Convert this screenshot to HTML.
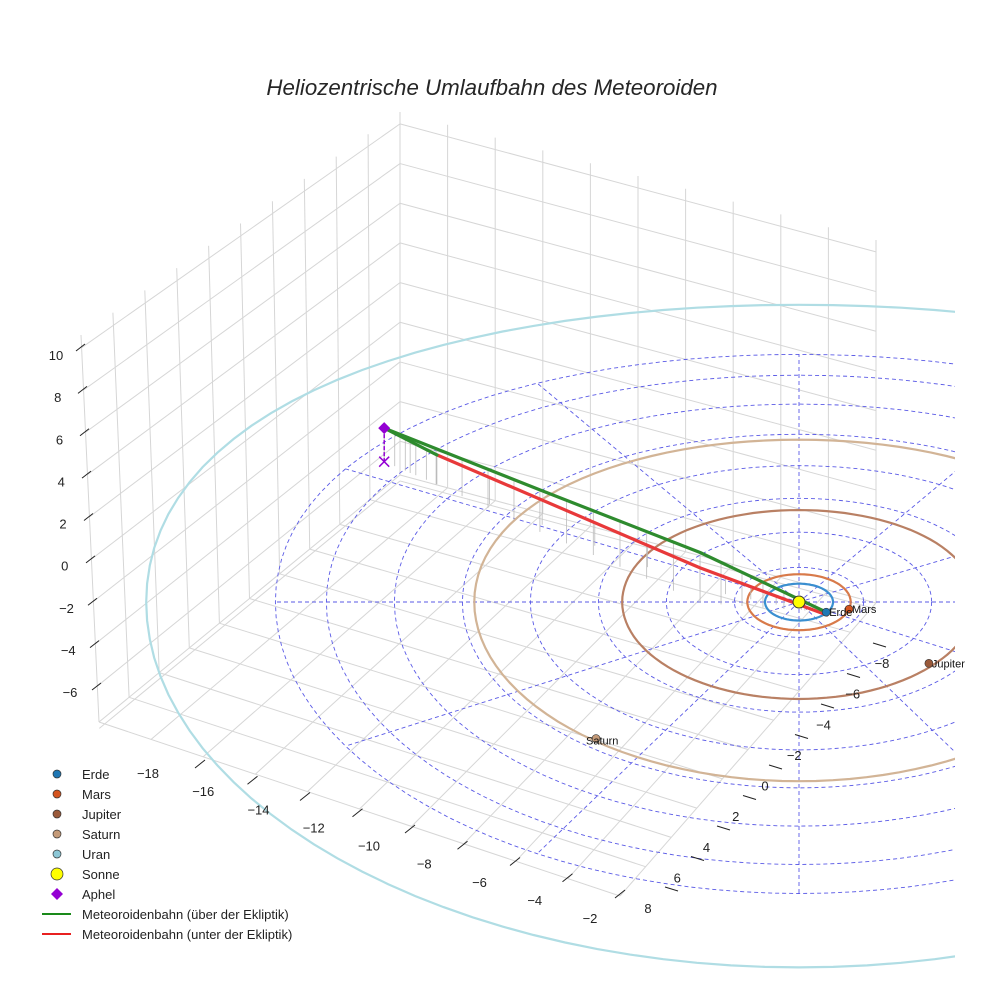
<!DOCTYPE html>
<html><head><meta charset="utf-8">
<style>
html,body{margin:0;padding:0;background:#fff;}
svg{display:block;font-family:"Liberation Sans",sans-serif;}
</style></head>
<body>
<svg id="chart" width="984" height="984" viewBox="0 0 984 984" xmlns="http://www.w3.org/2000/svg">
<rect x="0" y="0" width="984" height="984" fill="#fff"/>
<text x="492" y="95" text-anchor="middle" font-size="22.3" font-style="italic" fill="#262626">Heliozentrische Umlaufbahn des Meteoroiden</text>
<defs><clipPath id="clip"><rect x="0" y="0" width="955" height="984"/></clipPath></defs>
<g id="box"></g>
<g id="plot" clip-path="url(#clip)"></g>
<g id="labels"></g>
<g id="ticks"></g>
<g id="legend"></g>
</svg>
<script>
// ---- data ----
const planetNames = ["Erde","Mars","Jupiter","Saturn","Uran"];
const planetColors = ["#1f77b4","#d4541f","#9a5a3a","#c49a78","#8cc7d6"];
const orbitColors = ["#3a8fd0","#d87a4a","#b98064","#d2b496","#b0dde4"];
const orbitRadii = [1.0, 1.52, 5.2, 9.55, 19.2];
const planetX = [0.8, 1.47, 3.82, -5.97];
const planetY = [0.55, 0.39, 3.3, 7.3];
const ringRadii = [1.9, 3.9, 5.9, 7.9, 9.9, 11.9, 13.9, 15.4];
const radialAngles = [0, 30, 60, 90, 120, 150, 180, 210, 240, 270, 300, 330];
// upper trajectory (above ecliptic)
const upperX = [-12.2, -7.62, -2.91, 0.79];
const upperY = [-8.15, -3.92, 0.05, 0.54];
const upperZ = [1.6, 2.0, 2.4, 0.0];
// lower trajectory (green part then red)
const lowerX = [-12.2, -10.65, -2.91, 0.82];
const lowerY = [-8.15, -6.75, -0.71, 0.7];
const lowerZ = [1.6, 1.4, 1.0, 0.0];
const aphel = [-12.2, -8.15, 1.6];
const zTicks = ["10","8","6","4","2","0","−2","−4","−6"];
const xTicks = ["−18","−16","−14","−12","−10","−8","−6","−4","−2"];
const yTicks = ["8","6","4","2","0","−2","−4","−6","−8"];

// ---- projection ----
const SX = 799, SY = 602, KX = 34, KY = 18.5, KZ = 21;
function px(X){ return SX + X*KX; }
function py(Y,Z){ const f = Y<0 ? (1+Y*0.0085) : (1+Y*0.0015); return SY + Y*KY*f - (Z||0)*KZ; }
const NS="http://www.w3.org/2000/svg";
function mk(tag, attrs, parent){ const e=document.createElementNS(NS,tag); for(const k in attrs) e.setAttribute(k,attrs[k]); parent.appendChild(e); return e; }
const plot=document.getElementById('plot'), box=document.getElementById('box'), ticks=document.getElementById('ticks'), legend=document.getElementById('legend'), labels=document.getElementById('labels');

// ---- box grid ----
function lerp(a,b,t){ return [a[0]+(b[0]-a[0])*t, a[1]+(b[1]-a[1])*t]; }
const Bt=[81,335], At=[400,112], Ct=[876,240], Bb=[99,722], Ab=[400,475], Cb=[876,603], E=[620,896];
function ln(p,q,c,name){ const l=mk('line',{x1:p[0],y1:p[1],x2:q[0],y2:q[1],stroke:c||'#d6d6d6','stroke-width':1},box);
 
  }
for(let i=0;i<=10;i++){ const t=i/10; ln(lerp(Bt,At,t),lerp(Bb,Ab,t),null,'left-wall-gridline'); ln(lerp(Bb,Ab,t),lerp(E,Cb,t),null,'floor-gridline'); }
for(let i=0;i<=10;i++){ const t=i/10; ln(lerp(At,Ct,t),lerp(Ab,Cb,t),null,'back-wall-gridline'); ln(lerp(Ab,Cb,t),lerp(Bb,E,t),null,'floor-gridline'); }
for(let k=0;k<=9;k++){ const t=(0.6+2*k)/18.3; const pa=lerp(At,Ab,t), pb=lerp(Bt,Bb,t), pc=lerp(Ct,Cb,t); ln(pb,pa,null,'z-gridline'); ln(pa,pc,null,'z-gridline'); }

// ---- ecliptic rings ----
function ellipsePath(r){ let d=''; for(let a=0;a<=360;a+=3){ const t=a*Math.PI/180; const X=r*Math.cos(t), Y=r*Math.sin(t); d+=(a?'L':'M')+px(X).toFixed(1)+','+py(Y,0).toFixed(1); } return d; }
ringRadii.forEach(r=>{ const e=mk('path',{d:ellipsePath(r),fill:'none',stroke:'#5a5ae6','stroke-width':0.9,'stroke-dasharray':'4,3'},plot);
 
  });
const rMax = ringRadii[ringRadii.length-1];
radialAngles.forEach(a=>{ const t=a*Math.PI/180; const e=mk('line',{x1:px(0),y1:py(0,0),x2:px(rMax*Math.cos(t)),y2:py(rMax*Math.sin(t),0),stroke:'#5a5ae6','stroke-width':0.9,'stroke-dasharray':'4,3'},plot);
 
  });

// ---- planet orbits ----
orbitRadii.forEach((r,i)=>{ const e=mk('path',{d:ellipsePath(r),fill:'none',stroke:orbitColors[i],'stroke-width':2.2},plot);
 
  });

// ---- drop lines ----
function drops(X,Y,Z,n){ for(let s=0;s<X.length-1;s++){ for(let j=0;j<n;j++){ const t=j/n; const x=X[s]+(X[s+1]-X[s])*t, y=Y[s]+(Y[s+1]-Y[s])*t, z=Z[s]+(Z[s+1]-Z[s])*t;
 const l=mk('line',{x1:px(x),y1:py(y,z),x2:px(x),y2:py(y,0),stroke:'#bbbbbb','stroke-width':0.8},plot);
 
  } } }
drops(upperX,upperY,upperZ,6);
drops(lowerX,lowerY,lowerZ,5);

// ---- trajectories ----
function poly(X,Y,Z,c,name){ let d=''; X.forEach((x,i)=>{ d+=(i?'L':'M')+px(x).toFixed(1)+','+py(Y[i],Z[i]).toFixed(1); });
 const p=mk('path',{d:d,fill:'none',stroke:c,'stroke-width':3.2,'stroke-linecap':'round','stroke-linejoin':'round'},plot);
 
  }
poly(lowerX.slice(1),lowerY.slice(1),lowerZ.slice(1),'#e8393a','trajectory-below-ecliptic');
poly(lowerX.slice(0,2),lowerY.slice(0,2),lowerZ.slice(0,2),'#2e8b2e','trajectory-above-ecliptic-lower');
poly(upperX,upperY,upperZ,'#2e8b2e','trajectory-above-ecliptic');

// ---- aphel ----
const ax=px(aphel[0]), ay=py(aphel[1],aphel[2]), ay0=py(aphel[1],0);
const al=mk('line',{x1:ax,y1:ay,x2:ax,y2:ay0,stroke:'#9400d3','stroke-width':1.5,'stroke-dasharray':'4,2'},plot);
 
const axm=mk('path',{d:`M${ax-5},${ay0-5}L${ax+5},${ay0+5}M${ax+5},${ay0-5}L${ax-5},${ay0+5}`,stroke:'#9400d3','stroke-width':1.5,fill:'none'},plot);
 
const ad=mk('path',{d:`M${ax},${ay-6}L${ax+6},${ay}L${ax},${ay+6}L${ax-6},${ay}Z`,fill:'#9400d3'},plot);
 

// ---- sun ----
const sun=mk('circle',{cx:px(0),cy:py(0,0),r:6,fill:'#ffff00',stroke:'#333','stroke-width':1},plot);
 

// ---- planets ----
planetX.forEach((x,i)=>{ const c=mk('circle',{cx:px(x),cy:py(planetY[i],0),r:4,fill:planetColors[i],stroke:'#333','stroke-width':0.6},plot);
 
 
 const t=mk('text',{x:px(x)+(i==3?-10:3),y:py(planetY[i],0)+(i==3?6:4),'font-size':11,fill:'#111'},labels); t.textContent=planetNames[i];
 
  });

// ---- ticks ----
function tickRow(labelsArr, l0, l1, t0, t1, tickDx, tickDy, name){ labelsArr.forEach((s,i)=>{ const f=i/(labelsArr.length-1);
 const lx=l0[0]+(l1[0]-l0[0])*f, ly=l0[1]+(l1[1]-l0[1])*f, tx=t0[0]+(t1[0]-t0[0])*f, ty=t0[1]+(t1[1]-t0[1])*f;
 const l=mk('line',{x1:tx,y1:ty,x2:tx+tickDx,y2:ty+tickDy,stroke:'#222','stroke-width':1},ticks);
 
 
 const t=mk('text',{x:lx,y:ly,'text-anchor':'middle','font-size':13,fill:'#222'},ticks); t.textContent=s;
 
  }); }
tickRow(zTicks,[56,360],[70,697],[76,351],[92,690],9,-7,'z-axis');
tickRow(xTicks,[148,778],[590,923],[205,760],[625,890],-10,8,'x-axis');
tickRow(yTicks,[648,913],[882,668],[665,887],[873,643],13,4,'y-axis');

// ---- legend ----
const legItems=[["Erde","circle","#1f77b4",4],["Mars","circle","#d4541f",4],["Jupiter","circle","#9a5a3a",4],["Saturn","circle","#c49a78",4],["Uran","circle","#8cc7d6",4],["Sonne","circle","#ffff00",6],["Aphel","diamond","#9400d3",6],["Meteoroidenbahn (über der Ekliptik)","line","#1a8a1a",0],["Meteoroidenbahn (unter der Ekliptik)","line","#e82020",0]];
legItems.forEach((it,i)=>{ const y=774+i*20; let m;
 if(it[1]=='circle') m=mk('circle',{cx:57,cy:y,r:it[3],fill:it[2],stroke:'#333','stroke-width':0.7},legend);
 else if(it[1]=='diamond') m=mk('path',{d:`M57,${y-6}L63,${y}L57,${y+6}L51,${y}Z`,fill:it[2]},legend);
 else m=mk('line',{x1:42,y1:y,x2:71,y2:y,stroke:it[2],'stroke-width':2},legend);
 
 
 const t=mk('text',{x:82,y:y+5,'font-size':13,fill:'#222'},legend); t.textContent=it[0];
 
  });
</script>
</body></html>
